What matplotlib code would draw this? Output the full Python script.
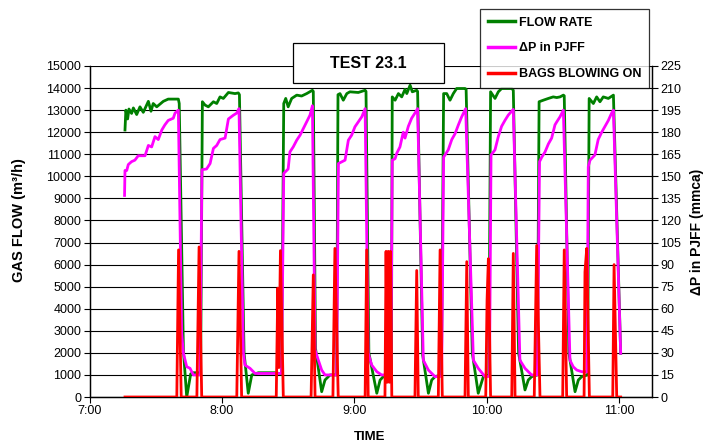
import matplotlib
matplotlib.use("Agg")
import matplotlib.pyplot as plt
from matplotlib.lines import Line2D
import numpy as np

plt.rcParams['font.family'] = ['Liberation Sans', 'DejaVu Sans']

# ---- data (time in minutes after 7:00) ----
flow_min = [16.0, 16.4, 17.2, 17.8, 19.0, 19.8, 21.3, 22.8, 24.3, 26.6, 27.8, 28.8, 30.4, 33.4, 35.6, 38.5, 40.2,
            40.6, 42.5, 44.0, 45.8, 47.0, 50.3,
            51.1, 52.3, 53.8, 56.1, 57.6, 59.1, 60.6, 62.9, 65.9, 67.4, 67.9,
            70.0, 71.9, 73.5, 76.5, 84.0, 87.0,
            88.0, 88.9, 90.0, 91.6, 93.9, 96.1, 98.4, 101.0, 101.4,
            102.4, 105.2, 106.7, 109.0, 112.0,
            112.6, 113.5, 115.0, 116.6, 118.0, 121.8, 124.9, 125.3,
            126.6, 130.2, 131.7, 133.9, 136.8,
            137.2, 138.5, 140.0, 141.5, 143.0, 143.8, 145.3, 146.3, 148.3, 148.7,
            151.0, 153.6, 155.1, 156.6, 159.5,
            160.5, 161.9, 163.4, 164.9, 166.4, 170.2, 170.7,
            173.5, 176.2, 178.5, 181.0,
            181.8, 183.8, 185.3, 186.8, 191.4, 192.1,
            194.5, 197.4, 198.9, 200.4, 203.0,
            203.8, 205.7, 208.0, 210.2, 211.8, 213.3, 214.8, 215.2,
            217.3, 220.1, 221.6, 223.1, 225.8,
            226.5, 228.4, 229.9, 231.4, 232.9, 235.2, 237.5, 240.8]
flow_val = [12100, 13000, 12600, 13050, 12850, 13100, 12800, 13150, 12900, 13400, 12950, 13300, 13150, 13400, 13500, 13500, 13500,
            13300, 2100, 0, 1050, 1100, 1100,
            13380, 13230, 13150, 13380, 13300, 13600, 13530, 13800, 13750, 13780, 13700,
            2000, 170, 1000, 1100, 1100, 1050,
            13300, 13530, 13150, 13530, 13680, 13640, 13750, 13900, 13850,
            2200, 240, 770, 1000, 1000,
            13700, 13750, 13450, 13750, 13830, 13800, 13900, 13850,
            2000, 170, 770, 1000, 1000,
            13600, 13450, 13750, 13600, 13940, 13750, 14130, 13830, 13900, 13850,
            1900, 170, 770, 920, 1000,
            13750, 13750, 13450, 13750, 13980, 13980, 13950,
            2000, 170, 920, 1000,
            13830, 13530, 13830, 13980, 13980, 13900,
            2000, 320, 770, 920, 1000,
            13380, 13450, 13530, 13600, 13570, 13600, 13680, 13650,
            2000, 240, 770, 920, 1000,
            13530, 13300, 13600, 13380, 13600, 13530, 13680, 1980]

dp_min = [15.8, 16.0, 16.8, 17.5, 19.0, 20.5, 22.0, 25.1, 26.6, 28.1, 29.6, 31.1, 32.7, 34.1, 35.6, 37.9, 38.7, 40.2,
          41.7, 42.5, 44.0, 45.5, 47.0, 50.0,
          50.9, 53.0, 54.6, 56.1, 57.6, 59.1, 61.4, 62.9, 65.1, 66.7, 67.7,
          69.7, 70.4, 72.7, 75.0, 85.5, 87.0,
          88.0, 90.0, 90.8, 92.3, 93.9, 95.4, 96.9, 98.4, 99.9, 101.0,
          102.2, 103.7, 105.2, 106.7, 112.0,
          112.8, 115.8, 117.3, 118.8, 120.3, 121.8, 123.4, 124.9,
          126.3, 127.9, 130.2, 132.4, 136.6,
          137.2, 138.5, 139.2, 140.7, 142.2, 143.0, 144.5, 146.0, 147.5, 148.7,
          151.3, 153.6, 156.6, 159.6,
          160.5, 162.6, 164.2, 165.7, 167.2, 168.7, 170.5,
          174.0, 176.2, 179.3, 181.3,
          182.0, 183.8, 185.3, 186.8, 188.3, 189.8, 192.1,
          195.1, 197.4, 200.4, 203.0,
          204.0, 205.0, 206.5, 208.0, 209.5, 211.0, 211.8, 213.3, 214.8,
          217.8, 219.3, 220.9, 223.1, 225.5,
          226.1, 226.9, 229.1, 230.6, 232.2, 233.7, 235.2, 236.7, 237.5, 240.8]
dp_val = [137, 154, 154, 158, 160, 161, 164, 164, 171, 170, 177, 175, 181.5, 185, 188, 189.5, 193, 195,
          43.5, 29.7, 20.6, 19.5, 15, 15,
          154.5, 155, 158.7, 169, 171, 175, 176, 189, 191.5, 193, 196,
          30, 21.7, 19.5, 16, 16, 16,
          152, 155, 166.6, 170, 174.6, 178, 182.5, 187, 191.6, 198,
          32, 25, 18.3, 15, 15,
          158.7, 161, 174.6, 178, 183.7, 187, 190.5, 196,
          29.7, 21.7, 17.2, 15, 15,
          161, 162, 165.5, 170, 180, 176, 184, 189.5, 193, 196,
          25, 18.3, 13.8, 14,
          163, 168, 175, 179, 185, 190.5, 196,
          25, 19.5, 13.8, 14,
          164.5, 168, 177, 184, 188, 191.6, 195.5,
          25, 19.5, 15, 15,
          160, 163, 166.6, 172, 176, 185, 187, 190.5, 195,
          25, 20.5, 18.3, 17.2, 17,
          156.5, 161, 164.5, 175, 180, 184, 188, 193, 195, 29.7]

bags_min = [16.0, 39.5, 40.3, 41.5, 48.6, 49.6, 50.8, 66.7, 67.7, 68.9,
            84.6, 85.3, 85.8, 86.5, 87.8, 100.4, 101.4, 102.2, 110.3, 111.2, 112.7,
            124.9, 125.6, 126.3, 133.9, 134.4, 134.9, 135.4, 135.9, 136.4, 137.0,
            147.5, 148.3, 149.0, 158.1, 158.9, 159.9, 170.2, 171.0, 171.7,
            179.6, 180.2, 180.8, 181.8, 191.4, 192.1, 192.9, 201.6, 202.7, 204.2,
            214.5, 215.2, 216.3, 224.2, 224.6, 225.4, 226.6, 237.2, 237.8, 239.0, 240.8]
bags_val = [0, 0, 100, 0, 0, 102, 0, 0, 99, 0,
            0, 74, 20, 99.5, 0, 0, 83, 0, 0, 101, 0,
            0, 100, 0, 0, 99, 10, 99, 10, 99, 0,
            0, 86, 0, 0, 100, 0, 0, 92, 0,
            0, 66, 94, 0, 0, 97.6, 0, 0, 103, 0,
            0, 100, 0, 0, 85, 101, 0, 0, 90, 0, 0]

flow_ticks = list(range(0, 15001, 1000))
dp_ticks = list(range(0, 226, 15))
time_ticks = [7, 8, 9, 10, 11]
time_labels = ["7:00", "8:00", "9:00", "10:00", "11:00"]

# ---- figure ----
W, H = 717, 446
fig = plt.figure(figsize=(W / 100, H / 100), dpi=100)
L, R, B, T = 89.7, 652, 397, 66
ax = fig.add_axes([L / W, 1 - B / H, (R - L) / W, (B - T) / H])
ax2 = ax.twinx()

to_h = lambda m: [7 + v / 60 for v in m]

green = "#008000"
mag = "#FF00FF"
red = "#FF0000"
lw = 2.0
ax.plot(to_h(flow_min), flow_val, color=green, lw=lw, solid_joinstyle='round', zorder=3)
ax2.plot(to_h(dp_min), dp_val, color=mag, lw=lw, solid_joinstyle='round', zorder=3)
ax2.plot(to_h(bags_min), bags_val, color=red, lw=lw, solid_joinstyle='round', zorder=4)

ax.set_xlim(7, 11.25)
ax.set_ylim(0, 15000)
ax2.set_ylim(0, 225)
ax.set_yticks(flow_ticks)
ax2.set_yticks(dp_ticks)
ax.set_xticks(time_ticks)
ax.set_xticklabels(time_labels)
ax.yaxis.grid(True, color='black', lw=0.8)
ax.set_axisbelow(True)

fs = 9
for a in (ax, ax2):
    a.tick_params(direction='out', length=4, width=0.8, labelsize=fs, colors='black', pad=2)
    for s in a.spines.values():
        s.set_linewidth(0.9)
ax.spines['top'].set_visible(False)
ax2.spines['top'].set_visible(False)

fig.text(19 / W, 1 - 220 / H, "GAS FLOW (m³/h)", rotation=90, ha='center', va='center',
         fontsize=10.5, fontweight='bold')
fig.text(697 / W, 1 - 232 / H, "ΔP in PJFF (mmca)", rotation=90, ha='center', va='center',
         fontsize=10, fontweight='bold')
fig.text(370 / W, 1 - 437 / H, "TIME", ha='center', va='center', fontsize=9.5, fontweight='bold')

# title box
fig.patches.append(plt.Rectangle((293 / W, 1 - 83 / H), (444 - 293) / W, (83 - 43) / H,
                                 transform=fig.transFigure, facecolor='white', edgecolor='black',
                                 lw=0.9, zorder=5))
fig.text(368 / W, 1 - 63 / H, "TEST 23.1", ha='center', va='center', fontsize=11.5,
         fontweight='bold', zorder=6)

# legend
handles = [Line2D([], [], color=green, lw=2.5), Line2D([], [], color=mag, lw=2.5),
           Line2D([], [], color=red, lw=2.5)]
labels = ["FLOW RATE", "ΔP in PJFF", "BAGS BLOWING ON"]
leg = fig.legend(handles, labels, loc='upper left', bbox_to_anchor=(480 / W, 1 - 9 / H),
                 frameon=True, fancybox=False, shadow=False, borderaxespad=0,
                 prop={'size': 9, 'weight': 'bold'}, handlelength=2.2, handletextpad=0.3,
                 labelspacing=1.1, borderpad=0.6)
leg.get_frame().set_edgecolor('black')
leg.get_frame().set_linewidth(0.9)
leg.set_zorder(7)

fig.savefig("out.png", dpi=100)
